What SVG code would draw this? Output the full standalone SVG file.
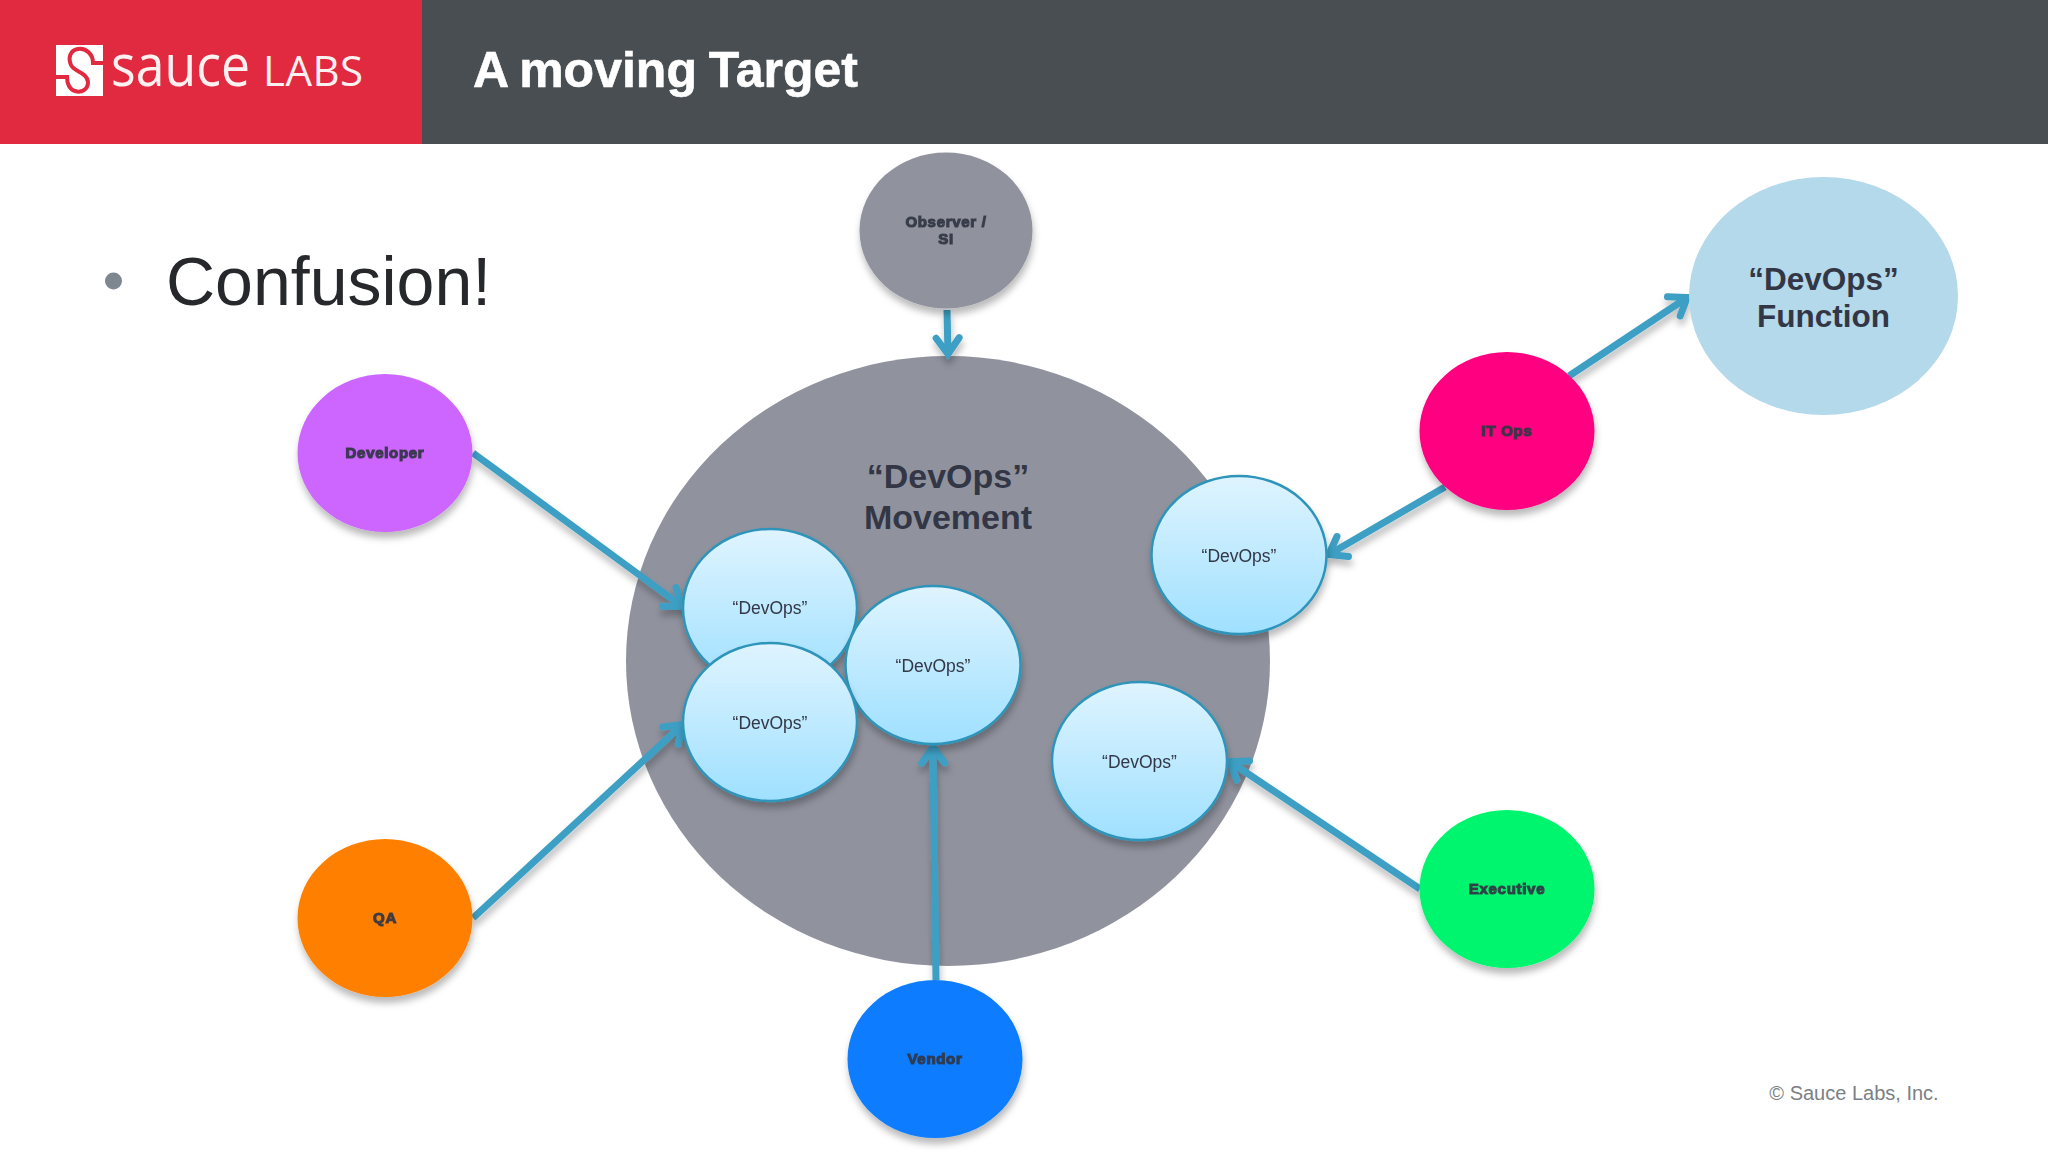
<svg xmlns="http://www.w3.org/2000/svg" width="2048" height="1152" viewBox="0 0 2048 1152">
<style>
text{font-family:"Liberation Sans",Arial,sans-serif;text-anchor:middle;fill:#333745}
.d{font-size:17.5px}
.t{font-size:15px;font-weight:bold;stroke:#333745;stroke-width:1.2px;letter-spacing:.7px;fill-opacity:.9;stroke-opacity:.85}
.b{font-size:34px;font-weight:bold}
.f{font-size:31.5px}
.c{fill:none;stroke:#3d9fc4;stroke-width:7px}
.o{fill:url(#g);stroke:#2e94b9;stroke-width:2.500px}
.n{filter:url(#s)}
</style>
<defs>
<linearGradient id="g" x1="0" y1="0" x2="0" y2="1"><stop offset="0" stop-color="#dff4ff"/><stop offset="1" stop-color="#9fe0ff"/></linearGradient>
<filter id="s" x="-20%" y="-20%" width="140%" height="140%"><feDropShadow dx="1" dy="6" stdDeviation="3.500" flood-color="#000" flood-opacity=".27"/></filter>
<marker id="a" markerUnits="userSpaceOnUse" markerWidth="40" markerHeight="40" refX="27" refY="20" orient="auto"><path d="M10 8.500L26 20L10 31.500" fill="none" stroke="#3d9fc4" stroke-width="7" stroke-linecap="round" stroke-linejoin="miter"/></marker>
</defs>
<rect width="2048" height="1152" fill="#fff"/>
<rect x="422" width="1626" height="144" fill="#484e52"/>
<rect width="422" height="144" fill="#e1293f"/>
<g id="logo">
<rect x="56" y="45" width="47" height="51" fill="#fff"/>
<path d="M103 63H93C93 53 85 48 78 49C70 50 68 58 71 65C74 72 87 72 88 82C88 90 81 93 75 91C70 90 67 84 67 77H56" fill="none" stroke="#e1293f" stroke-width="4"/>
<text x="111" y="86" textLength="139" lengthAdjust="spacingAndGlyphs" style="text-anchor:start;font-family:'Open Sans',sans-serif;font-size:59px;fill:#fdf0f1;font-weight:400">sauce</text>
<text x="263" y="86" textLength="100" lengthAdjust="spacing" style="text-anchor:start;font-family:'Open Sans',sans-serif;font-size:42px;fill:#fdf0f1;font-weight:400">LABS</text>
</g>
<text x="473" y="87" style="text-anchor:start;font-size:50px;font-weight:bold;fill:#fff;stroke:#fff;stroke-width:.6px;word-spacing:-2px">A moving Target</text>
<circle cx="113.500" cy="281" r="8.500" fill="#7e8790"/>
<text x="166" y="305" style="text-anchor:start;font-size:68px;fill:#26282c">Confusion!</text>
<g id="n-movement"><ellipse cx="948" cy="661" rx="322" ry="305" fill="#90939e"/>
<text class="b" x="948" y="488">“DevOps”</text><text class="b" x="948" y="529">Movement</text></g>
<g id="connectors" class="n">
<line class="c" x1="473" y1="453" x2="683" y2="607" marker-end="url(#a)"/>
<line class="c" x1="473" y1="918" x2="683" y2="724" marker-end="url(#a)"/>
<line class="c" x1="947" y1="310" x2="948" y2="355" marker-end="url(#a)"/>
<line class="c" x1="936" y1="980" x2="933" y2="746" marker-end="url(#a)"/>
<line class="c" x1="1445" y1="487" x2="1328" y2="555" marker-end="url(#a)"/>
<line class="c" x1="1569" y1="376" x2="1688" y2="297" marker-end="url(#a)"/>
<line class="c" x1="1420" y1="889" x2="1229" y2="761" marker-end="url(#a)"/>
</g>
<g id="n-observer" class="n"><ellipse cx="946" cy="230.500" rx="86.500" ry="78" fill="#90939e"/><text class="t" x="946" y="227">Observer /</text><text class="t" x="946" y="244">SI</text></g>
<g id="n-developer" class="n"><ellipse cx="385" cy="453" rx="87.500" ry="79" fill="#cc66ff"/><text class="t" x="385" y="458">Developer</text></g>
<g id="n-qa" class="n"><ellipse cx="385" cy="918" rx="87.500" ry="79" fill="#ff8000"/><text class="t" x="385" y="923">QA</text></g>
<g id="n-vendor" class="n"><ellipse cx="935" cy="1059" rx="87.500" ry="79" fill="#0a7cff"/><text class="t" x="935" y="1064">Vendor</text></g>
<g id="n-executive" class="n"><ellipse cx="1507" cy="889" rx="87.500" ry="79" fill="#00f56e"/><text class="t" x="1507" y="894">Executive</text></g>
<g id="n-itops" class="n"><ellipse cx="1507" cy="431" rx="87.500" ry="79" fill="#ff0080"/><text class="t" x="1507" y="436">IT Ops</text></g>
<g id="n-function"><ellipse cx="1823.500" cy="296" rx="134.500" ry="119" fill="#b3d9ea"/><text class="b f" x="1823.500" y="290">“DevOps”</text><text class="b f" x="1823.500" y="327">Function</text></g>
<g id="n-d1" class="n"><ellipse class="o" cx="770" cy="608" rx="87" ry="79"/><text class="d" x="770" y="614">“DevOps”</text></g>
<g id="n-d3" class="n"><ellipse class="o" cx="933" cy="665" rx="87.500" ry="79"/><text class="d" x="933" y="671.500">“DevOps”</text></g>
<g id="n-d2" class="n"><ellipse class="o" cx="770" cy="722" rx="87" ry="79"/><text class="d" x="770" y="729">“DevOps”</text></g>
<g id="n-d4" class="n"><ellipse class="o" cx="1239" cy="555" rx="87.500" ry="79"/><text class="d" x="1239" y="562">“DevOps”</text></g>
<g id="n-d5" class="n"><ellipse class="o" cx="1139.500" cy="761" rx="87.500" ry="79"/><text class="d" x="1139.500" y="768">“DevOps”</text></g>
<text x="1854" y="1100" style="font-size:20px;fill:#7b7f84">© Sauce Labs, Inc.</text>
</svg>
